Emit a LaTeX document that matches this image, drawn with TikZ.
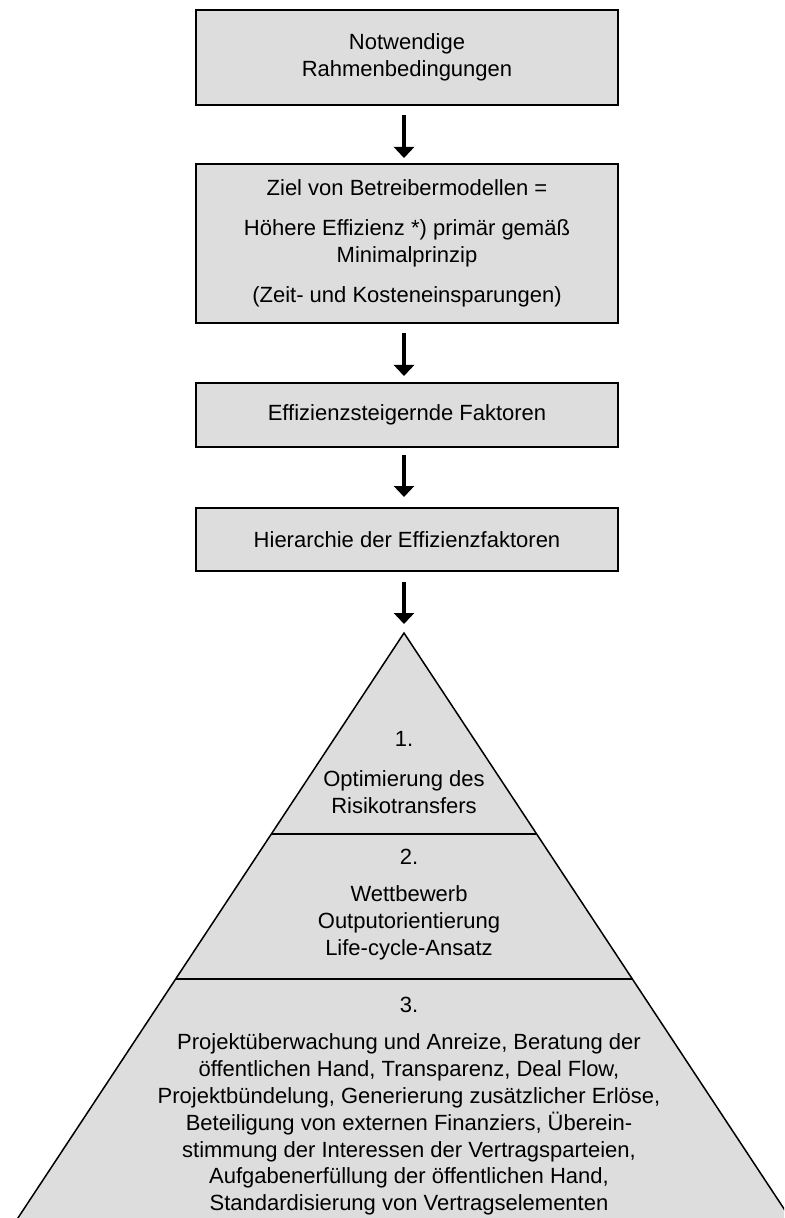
\documentclass[tikz,border=0pt]{standalone}
\usepackage{fontspec}
\setmainfont{Liberation Sans}
\usetikzlibrary{arrows.meta,calc}
\definecolor{boxgray}{RGB}{221,221,221}
\begin{document}
\begin{tikzpicture}[x=0.5pt,y=-0.5pt,
  flowbox/.style={draw=black, line width=1pt, fill=boxgray, minimum width=211pt, align=center, font=\fontsize{11}{13.5}\selectfont, inner sep=0pt},
  flowarrow/.style={line width=2.2pt, -{Triangle[width=10pt,length=5.5pt]}},
  lvltext/.style={align=center, font=\fontsize{11}{13.4}\selectfont, inner sep=0pt},
  pyrline/.style={line width=0.75pt}]
\useasboundingbox (0,0) rectangle (784,1218);
% boxes
\node[flowbox, minimum height=47.5pt] (b1) at (407,57.5) {Notwendige\\Rahmenbedingungen};
\node[flowbox, minimum height=79.5pt] (b2) at (407,243.5) {Ziel von Betreibermodellen =\\[6.5pt]H\"ohere Effizienz *) prim\"ar gem\"a\ss\\Minimalprinzip\\[6.5pt](Zeit- und Kosteneinsparungen)};
\node[flowbox, minimum height=32pt] (b3) at (407,415) {Effizienzsteigernde Faktoren};
\node[flowbox, minimum height=31.5pt] (b4) at (407,539.5) {Hierarchie der Effizienzfaktoren};
% pyramid
\coordinate (apex) at (404,633);
\coordinate (bl) at (10,1230);
\coordinate (br) at (798,1230);
\begin{scope}
\clip (0,0) rectangle (784,1218);
\draw[pyrline, fill=boxgray] (apex) -- (bl) -- (br) -- cycle;
\end{scope}
\coordinate (l1a) at ($(apex)!0.3367!(bl)$);
\coordinate (l1b) at ($(apex)!0.3367!(br)$);
\coordinate (l2a) at ($(apex)!0.5796!(bl)$);
\coordinate (l2b) at ($(apex)!0.5796!(br)$);
\draw[pyrline] (l1a) -- (l1b);
\draw[pyrline] (l2a) -- (l2b);
% arrows
\draw[flowarrow, shorten <=4.5pt, shorten >=2.5pt] ([xshift=-1.5pt]b1.south) -- ([xshift=-1.5pt]b2.north);
\draw[flowarrow, shorten <=4.5pt, shorten >=3pt] ([xshift=-1.5pt]b2.south) -- ([xshift=-1.5pt]b3.north);
\draw[flowarrow, shorten <=3.5pt, shorten >=5pt] ([xshift=-1.5pt]b3.south) -- ([xshift=-1.5pt]b4.north);
\draw[flowarrow, shorten <=5pt, shorten >=4.5pt] ([xshift=-1.5pt]b4.south) -- (apex);
% pyramid texts
\node[lvltext] (n1) at (404,739) {1.};
\node[lvltext] (t1) at (404,792.5) {Optimierung des\\Risikotransfers};
\node[lvltext] (n2) at (409,857) {2.};
\node[lvltext] (t2) at (409,923) {Wettbewerb\\Outputorientierung\\Life-cycle-Ansatz};
\node[lvltext] (n3) at (409,1005) {3.};
\node[lvltext] (t3) at (409,1124.5) {Projekt\"uberwachung und Anreize, Beratung der\\\"offentlichen Hand, Transparenz, Deal Flow,\\Projektb\"undelung, Generierung zus\"atzlicher Erl\"ose,\\Beteiligung von externen Finanziers, \"Uberein-\\stimmung der Interessen der Vertragsparteien,\\Aufgabenerf\"ullung der \"offentlichen Hand,\\Standardisierung von Vertragselementen};
\end{tikzpicture}
\end{document}
